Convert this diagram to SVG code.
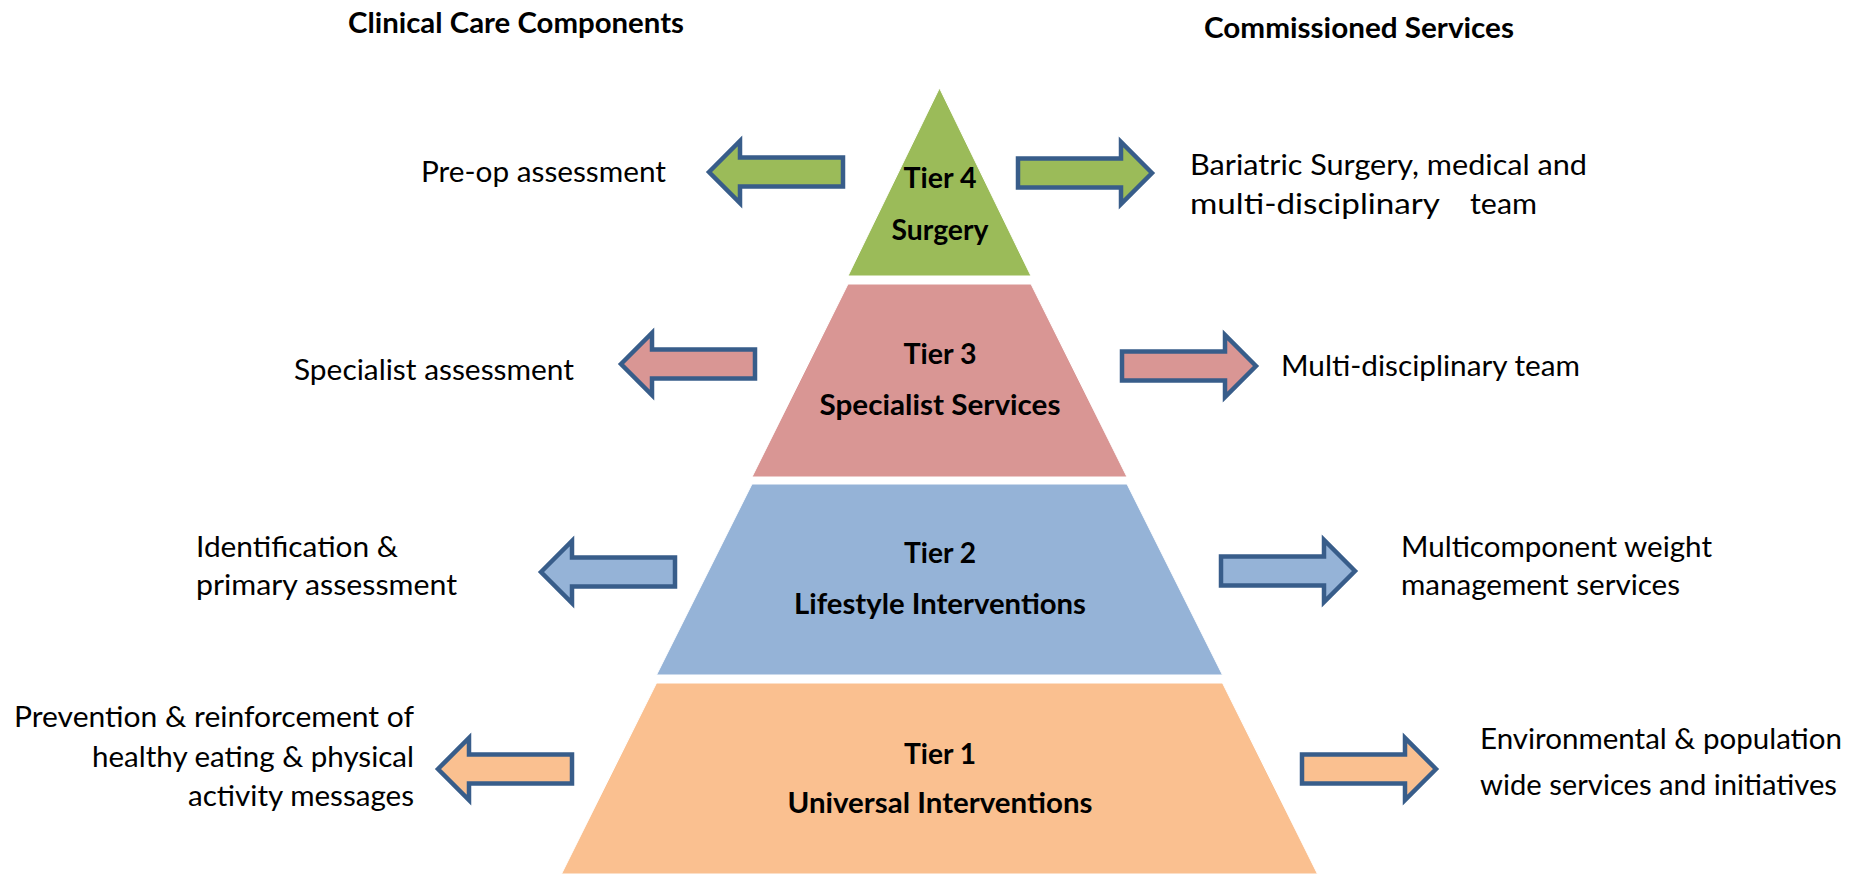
<svg xmlns="http://www.w3.org/2000/svg" width="1860" height="874" viewBox="0 0 1860 874">
<style>
.t{font-family:Lato,"Open Sans","Liberation Sans",sans-serif;font-size:28px;fill:#000}
.b{font-weight:bold}
.h{font-size:29px}
.tier{stroke:#ffffff;stroke-width:1}
.arr{stroke:#385D8A;stroke-width:4.5;stroke-linejoin:miter}
</style>
<defs>
<path id="arrowL" d="M0,0 L31,-31 L31,-14.5 L134,-14.5 L134,14.5 L31,14.5 L31,31 Z"/>
</defs>
<rect x="0" y="0" width="1860" height="874" fill="#ffffff"/>

<g id="headers">
<text class="t b h" x="348" y="33" textLength="336" lengthAdjust="spacingAndGlyphs">Clinical Care Components</text>
<text class="t b h" x="1204" y="38" textLength="310" lengthAdjust="spacingAndGlyphs">Commissioned Services</text>
</g>

<g id="tier4">
<polygon class="tier" points="939.5,88 1031,276 848,276" fill="#9BBB59"/>
<text class="t b" x="940" y="188" text-anchor="middle" textLength="73" lengthAdjust="spacingAndGlyphs">Tier 4</text>
<text class="t b" x="940" y="240" text-anchor="middle" textLength="97" lengthAdjust="spacingAndGlyphs">Surgery</text>
</g>
<g id="tier3">
<polygon class="tier" points="848,284 1031,284 1127,477 752,477" fill="#D99694"/>
<text class="t b" x="940" y="364" text-anchor="middle" textLength="73" lengthAdjust="spacingAndGlyphs">Tier 3</text>
<text class="t b" x="940" y="415" text-anchor="middle" textLength="241" lengthAdjust="spacingAndGlyphs">Specialist Services</text>
</g>
<g id="tier2">
<polygon class="tier" points="752,484 1127,484 1222.5,675 656.5,675" fill="#95B3D7"/>
<text class="t b" x="940" y="563" text-anchor="middle" textLength="72" lengthAdjust="spacingAndGlyphs">Tier 2</text>
<text class="t b" x="940" y="614" text-anchor="middle" textLength="292" lengthAdjust="spacingAndGlyphs">Lifestyle Interventions</text>
</g>
<g id="tier1">
<polygon class="tier" points="656.5,683 1222.5,683 1317.5,874 561.5,874" fill="#FAC090"/>
<text class="t b" x="940" y="764" text-anchor="middle" textLength="72" lengthAdjust="spacingAndGlyphs">Tier 1</text>
<text class="t b" x="940" y="813" text-anchor="middle" textLength="305" lengthAdjust="spacingAndGlyphs">Universal Interventions</text>
</g>

<g id="connectors">
<use href="#arrowL" class="arr" fill="#9BBB59" transform="translate(709,172)"/>
<use href="#arrowL" class="arr" fill="#9BBB59" transform="translate(1152,173) scale(-1,1)"/>
<use href="#arrowL" class="arr" fill="#D99694" transform="translate(621,364)"/>
<use href="#arrowL" class="arr" fill="#D99694" transform="translate(1256,366) scale(-1,1)"/>
<use href="#arrowL" class="arr" fill="#95B3D7" transform="translate(541,572)"/>
<use href="#arrowL" class="arr" fill="#95B3D7" transform="translate(1355,571) scale(-1,1)"/>
<use href="#arrowL" class="arr" fill="#FAC090" transform="translate(438,769)"/>
<use href="#arrowL" class="arr" fill="#FAC090" transform="translate(1436,769) scale(-1,1)"/>
</g>

<g id="label-t4-left">
<text class="t" x="421" y="182" textLength="245" lengthAdjust="spacingAndGlyphs">Pre-op assessment</text>
</g>
<g id="label-t4-right">
<text class="t" x="1190" y="175" textLength="397" lengthAdjust="spacingAndGlyphs">Bariatric Surgery, medical and</text>
<text class="t" x="1190" y="214" textLength="250" lengthAdjust="spacingAndGlyphs">multi-disciplinary</text>
<text class="t" x="1470" y="214" textLength="67" lengthAdjust="spacingAndGlyphs">team</text>
</g>
<g id="label-t3-left">
<text class="t" x="294" y="380" textLength="280" lengthAdjust="spacingAndGlyphs">Specialist assessment</text>
</g>
<g id="label-t3-right">
<text class="t" x="1281" y="376" textLength="299" lengthAdjust="spacingAndGlyphs">Multi-disciplinary team</text>
</g>
<g id="label-t2-left">
<text class="t" x="196" y="557" textLength="202" lengthAdjust="spacingAndGlyphs">Identification &amp;</text>
<text class="t" x="196" y="595" textLength="261" lengthAdjust="spacingAndGlyphs">primary assessment</text>
</g>
<g id="label-t2-right">
<text class="t" x="1401" y="557" textLength="311" lengthAdjust="spacingAndGlyphs">Multicomponent weight</text>
<text class="t" x="1401" y="595" textLength="279" lengthAdjust="spacingAndGlyphs">management services</text>
</g>
<g id="label-t1-left">
<text class="t" x="414" y="727" text-anchor="end" textLength="400" lengthAdjust="spacingAndGlyphs">Prevention &amp; reinforcement of</text>
<text class="t" x="414" y="767" text-anchor="end" textLength="322" lengthAdjust="spacingAndGlyphs">healthy eating &amp; physical</text>
<text class="t" x="414" y="806" text-anchor="end" textLength="226" lengthAdjust="spacingAndGlyphs">activity messages</text>
</g>
<g id="label-t1-right">
<text class="t" x="1480" y="749" textLength="362" lengthAdjust="spacingAndGlyphs">Environmental &amp; population</text>
<text class="t" x="1480" y="795" textLength="357" lengthAdjust="spacingAndGlyphs">wide services and initiatives</text>
</g>
</svg>
